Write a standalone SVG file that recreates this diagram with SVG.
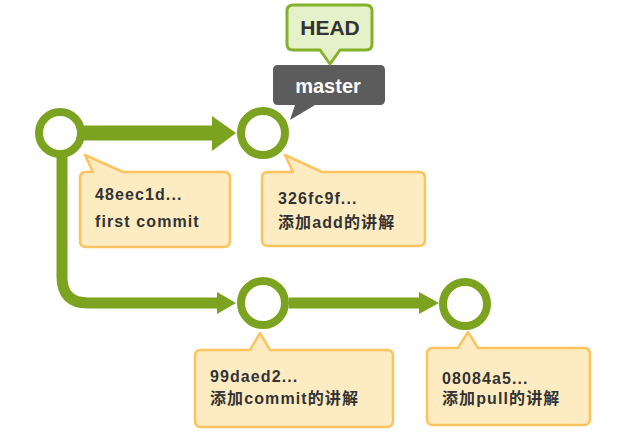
<svg xmlns="http://www.w3.org/2000/svg" width="622" height="437" viewBox="0 0 622 437">
<style>
.commit{fill:#ffffff;stroke:#7ba31f;stroke-width:8}
.line{fill:none;stroke:#7ba31f;stroke-linejoin:round}
.head{fill:#7ba31f}
.callout{fill:#fdebc2;stroke:#fbc45e;stroke-width:2.5;stroke-linejoin:round}
.ct{font-family:"Liberation Sans","Noto Sans CJK SC",sans-serif;font-weight:bold;font-size:16px;letter-spacing:1.1px;fill:#333333}
.lbl{font-family:"Liberation Sans",Arial,sans-serif;font-weight:bold;text-anchor:middle}
</style>
<rect width="622" height="437" fill="#ffffff"/>
<g id="connectors">
<path class="line" d="M83,133 L216,133" stroke-width="15"/>
<polygon class="head" points="212,116 236,133 212,151"/>
<path class="line" d="M62,156 L62,277 Q62,303 88,303 L220,303" stroke-width="11"/>
<polygon class="head" points="217,292 236,303 217,314"/>
<path class="line" d="M289,303 L422,303" stroke-width="11"/>
<polygon class="head" points="419,292 439,303 419,314"/>
</g>
<g id="c48eec1d">
<circle class="commit" cx="60" cy="133" r="21"/>
<path class="callout" d="M86,172 L93,172 L85,155 L123,172 L224,172 Q230,172 230,178 L230,241 Q230,247 224,247 L86,247 Q80,247 80,241 L80,178 Q80,172 86,172 Z"/>
<text class="ct" x="95" y="200">48eec1d...</text>
<text class="ct" x="95" y="227">first commit</text>
</g>
<g id="c326fc9f">
<circle class="commit" cx="263" cy="133" r="22"/>
<path class="callout" d="M268,172 L293,172 L285,155 L322,172 L419,172 Q425,172 425,178 L425,240 Q425,246 419,246 L268,246 Q262,246 262,240 L262,178 Q262,172 268,172 Z"/>
<text class="ct" x="278" y="204">326fc9f...</text>
<text class="ct" x="278" y="228">添加add的讲解</text>
</g>
<g id="c99daed2">
<circle class="commit" cx="263" cy="303" r="22"/>
<path class="callout" d="M201,350 L250,350 L260,333 L270,350 L387,350 Q393,350 393,356 L393,421 Q393,427 387,427 L201,427 Q195,427 195,421 L195,356 Q195,350 201,350 Z"/>
<text class="ct" x="210" y="382">99daed2...</text>
<text class="ct" x="210" y="404">添加commit的讲解</text>
</g>
<g id="c08084a5">
<circle class="commit" cx="465" cy="304" r="22"/>
<path class="callout" d="M433,348 L458,348 L468,332 L478,348 L584,348 Q590,348 590,354 L590,419 Q590,425 584,425 L433,425 Q427,425 427,419 L427,354 Q427,348 433,348 Z"/>
<text class="ct" x="442" y="384">08084a5...</text>
<text class="ct" x="442" y="404">添加pull的讲解</text>
</g>
<g id="master">
<path d="M278,65 L380,65 Q385,65 385,70 L385,100 Q385,105 380,105 L315,105 L290,120 L295,105 L278,105 Q273,105 273,100 L273,70 Q273,65 278,65 Z" fill="#5c5c5c"/>
<text class="lbl" x="328" y="93" font-size="20" fill="#ffffff">master</text>
</g>
<g id="HEAD">
<path d="M293,5 L366,5 Q372,5 372,11 L372,44 Q372,50 366,50 L340,50 L330,64 L320,50 L293,50 Q287,50 287,44 L287,11 Q287,5 293,5 Z" fill="#e5f1c8" stroke="#84b02a" stroke-width="3" stroke-linejoin="round"/>
<text class="lbl" x="330" y="35" font-size="21" fill="#333333">HEAD</text>
</g>
</svg>
